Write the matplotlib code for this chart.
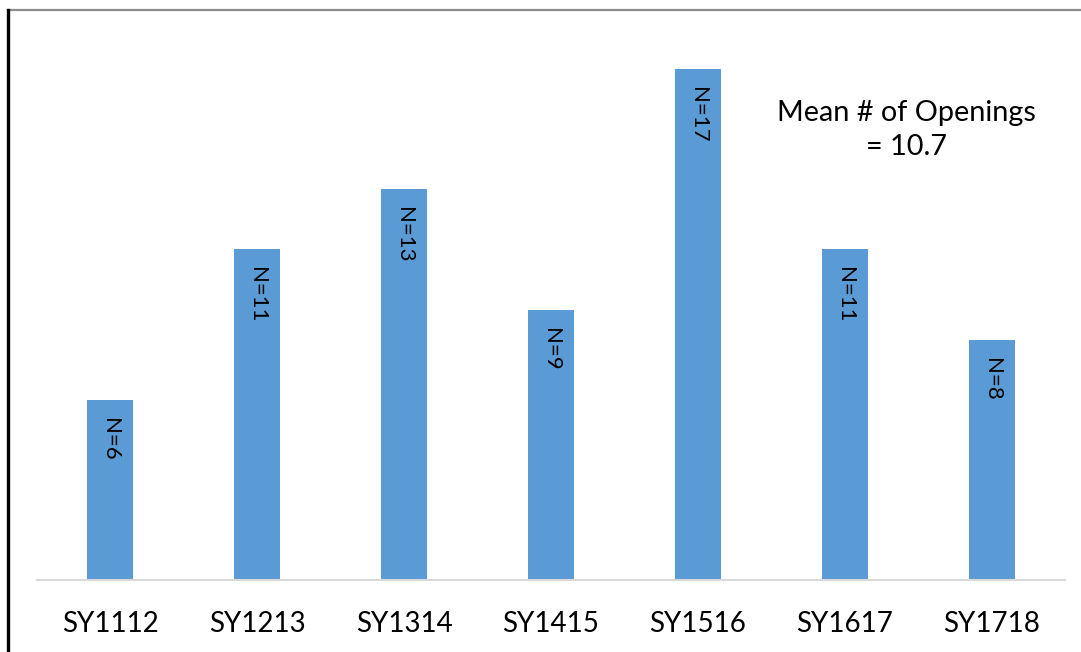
import matplotlib
matplotlib.use("Agg")
import matplotlib.pyplot as plt
from matplotlib.lines import Line2D
import numpy as np

# School-year categories and number of openings per year
years = ["SY1112", "SY1213", "SY1314", "SY1415", "SY1516", "SY1617", "SY1718"]
openings = [6, 11, 13, 9, 17, 11, 8]

plt.rcParams["font.family"] = ["Lato", "DejaVu Sans"]

W, H = 1081, 652
fig = plt.figure(figsize=(W / 100, H / 100), dpi=100)
fig.patch.set_facecolor("white")

ax = fig.add_axes([37 / W, 1 - 580 / H, (1065 - 37) / W, (580 - 39) / H])
x = np.arange(len(years))
bars = ax.bar(x, openings, width=0.313, color="#5B9BD5", zorder=2)

ax.set_xlim(-0.5, len(years) - 0.5)
ax.set_ylim(0, 18)
ax.set_xticks(x)
ax.set_xticklabels(years, fontsize=20, color="#000000")
ax.tick_params(axis="x", length=0, pad=22)
ax.set_yticks([])
for side in ("top", "right", "left"):
    ax.spines[side].set_visible(False)
ax.spines["bottom"].set_color("#D9D9D9")
ax.spines["bottom"].set_linewidth(1.5)

# value labels written down inside each bar, near its top
for xi, v in zip(x, openings):
    ax.annotate(f"N={v}", xy=(xi, v), xytext=(0, -13), textcoords="offset points",
                ha="center", va="top", rotation=-90, fontsize=16, color="#000000")

mean_val = np.mean(openings)
fig.text(906 / W, 1 - 130 / H, f"Mean # of Openings\n= {mean_val:.1f}",
         ha="center", va="center", multialignment="center",
         fontsize=20.8, linespacing=1.4, color="#000000")

# frame lines along the top and left edges
fig.add_artist(Line2D([8 / W, 1.0], [1 - 10 / H, 1 - 10 / H], transform=fig.transFigure,
                      color="#8C8C8C", linewidth=1.6))
fig.add_artist(Line2D([8 / W, 8 / W], [0.0, 1 - 10 / H], transform=fig.transFigure,
                      color="#000000", linewidth=2.4))

fig.savefig("out.png", dpi=100, facecolor="white")
